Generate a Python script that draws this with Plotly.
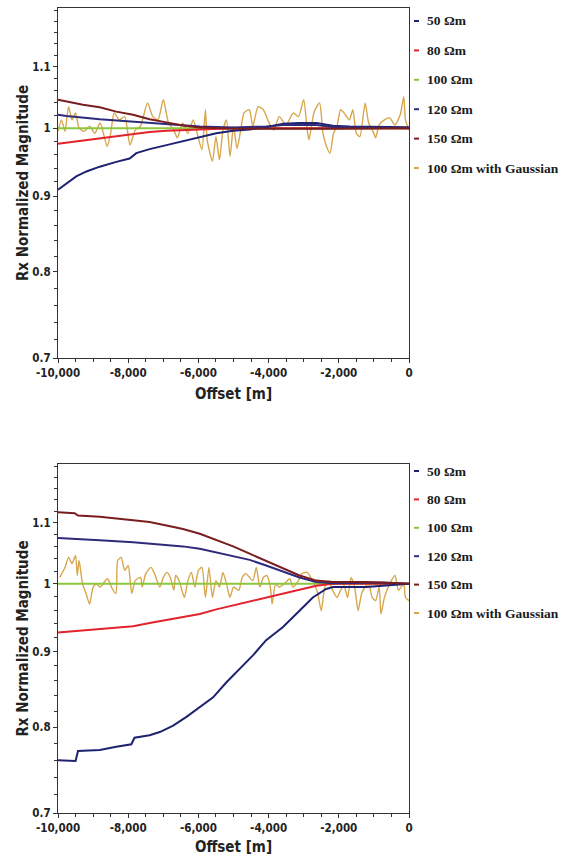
import math
import plotly.graph_objects as go
from plotly.subplots import make_subplots

# ---------------- data ----------------
series_names = ["50 Ωm", "80 Ωm", "100 Ωm", "120 Ωm", "150 Ωm", "100 Ωm with Gaussian"]
series_colors = ["#1d2370", "#e2222c", "#8cc63f", "#2e2a7c", "#7a1d1f", "#d8a64c"]

x_tickvals = [-10000, -8000, -6000, -4000, -2000, 0]
x_ticktext = ["-10,000", "-8,000", "-6,000", "-4,000", "-2,000", "0"]
y_tickvals = [0.7, 0.8, 0.9, 1.0, 1.1]
y_ticktext = ["0.7", "0.8", "0.9", "1", "1.1"]

# ---- top panel ----
top_50_x = [-10000, -9810, -9480, -9190, -8810, -8340, -7960, -7770, -7390, -6910, -6440,
            -5960, -5490, -5010, -4540, -4070, -3590, -3120, -2640, -2170, -1690, 0]
top_50_y = [0.909, 0.916, 0.928, 0.935, 0.942, 0.949, 0.954, 0.962, 0.968, 0.974, 0.980,
            0.986, 0.992, 0.996, 0.998, 1.0015, 1.0067, 1.008, 1.008, 1.0036, 1.0026, 1.0015]

top_80_x = [-10000, -9290, -8810, -8340, -7860, -7390, -6910, -6440, -5960, -5010, 0]
top_80_y = [0.976, 0.981, 0.985, 0.988, 0.991, 0.994, 0.996, 0.997, 0.998, 1.0, 1.0]

top_100_x = [-10000, 0]
top_100_y = [1.0, 1.0]

top_120_x = [-10000, -9760, -8810, -7860, -6910, -5960, -5010, -4070, -3590, -2640, -2170, 0]
top_120_y = [1.021, 1.019, 1.014, 1.010, 1.006, 1.0026, 1.001, 1.0026, 1.005, 1.005, 1.002, 1.0]

top_150_x = [-10000, -9290, -8810, -8340, -7860, -7390, -6910, -6440, -5960, -5010, -2170, 0]
top_150_y = [1.045, 1.037, 1.033, 1.026, 1.021, 1.014, 1.009, 1.004, 1.001, 0.999, 0.999, 1.0]

top_gauss_x = [-10000, -9900, -9800, -9700, -9600, -9500, -9400, -9250, -9100, -8950,
               -8800, -8600, -8500, -8400, -8250, -8100, -7950, -7800, -7650, -7450,
               -7300, -7150, -7000, -6850, -6700, -6600, -6450, -6300, -6150, -6050,
               -5900, -5800, -5750, -5600, -5500, -5400, -5300, -5200, -5100, -5000,
               -4900, -4800, -4700, -4550, -4450, -4300, -4150, -4000, -3850, -3700,
               -3500, -3300, -3150, -3000, -2900, -2850, -2700, -2550, -2450, -2350,
               -2250, -2150, -2050, -1950, -1850, -1700, -1600, -1500, -1400, -1250,
               -1150, -1000, -950, -850, -700, -550, -400, -250, -150, -100, 0]
top_gauss_y = [0.995, 1.013, 0.995, 1.034, 1.013, 1.024, 1.000, 0.995, 1.003, 0.992,
               1.008, 0.972, 0.992, 1.024, 1.013, 1.018, 0.974, 0.997, 1.003, 1.040,
               1.018, 1.013, 1.045, 1.008, 0.997, 0.985, 1.008, 0.992, 1.013, 0.995,
               0.967, 1.029, 0.982, 0.950, 0.987, 0.952, 0.997, 1.013, 0.957, 1.003,
               0.969, 0.995, 1.024, 1.029, 1.003, 1.034, 1.029, 1.010, 0.997, 1.018,
               1.005, 1.024, 1.018, 1.045, 0.997, 0.982, 1.026, 1.040, 0.992, 0.972,
               0.962, 0.992, 1.003, 1.029, 1.024, 1.013, 1.029, 0.992, 0.987, 1.040,
               1.008, 0.992, 0.985, 1.005, 1.013, 1.016, 1.005, 1.021, 1.050, 1.013, 0.997]

# ---- bottom panel ----
bot_50_x = [-10000, -9500, -9430, -8810, -8340, -7910, -7820, -7390, -7100, -6720, -6340,
            -5960, -5580, -5200, -4820, -4440, -4070, -3590, -3120, -2740, -2360, -2170,
            -1220, -740, -270, 0]
bot_50_y = [0.760, 0.759, 0.771, 0.772, 0.776, 0.779, 0.787, 0.790, 0.794, 0.802, 0.813,
            0.825, 0.838, 0.858, 0.877, 0.895, 0.916, 0.935, 0.959, 0.979, 0.992, 0.995,
            0.995, 0.997, 1.0, 1.0]

bot_80_x = [-10000, -9480, -8810, -7860, -7390, -6910, -6440, -5960, -5490, -5010, -4540,
            -4070, -3590, -3120, -2640, -2170, 0]
bot_80_y = [0.927, 0.929, 0.932, 0.936, 0.941, 0.945, 0.950, 0.954, 0.961, 0.967, 0.973,
            0.978, 0.985, 0.991, 0.997, 1.0, 1.0]

bot_100_x = [-10000, 0]
bot_100_y = [1.0, 1.0]

bot_120_x = [-10000, -9290, -8810, -7860, -6910, -6440, -5960, -5490, -5010, -4540, -4070,
             -3590, -3120, -2640, -2170, -740, 0]
bot_120_y = [1.074, 1.071, 1.070, 1.067, 1.063, 1.060, 1.056, 1.050, 1.045, 1.038, 1.029,
             1.019, 1.010, 1.003, 1.001, 1.002, 1.0]

bot_150_x = [-10000, -9525, -9430, -8810, -7860, -7390, -6910, -6440, -5960, -5490, -5010,
             -4540, -4070, -3590, -3120, -2640, -2170, -1220, -270, 0]
bot_150_y = [1.118, 1.116, 1.112, 1.110, 1.104, 1.101, 1.095, 1.089, 1.081, 1.071, 1.060,
             1.048, 1.036, 1.024, 1.013, 1.005, 1.003, 1.003, 1.001, 1.0]

bot_gauss_x = [-9950, -9800, -9700, -9600, -9500, -9450, -9400, -9300, -9200, -9100,
               -9000, -8900, -8800, -8600, -8550, -8450, -8350, -8300, -8200, -8100,
               -8000, -7900, -7800, -7650, -7600, -7500, -7350, -7250, -7100, -7000,
               -6900, -6800, -6700, -6650, -6550, -6400, -6300, -6200, -6100, -6000,
               -5900, -5800, -5700, -5600, -5500, -5400, -5300, -5200, -5100, -5000,
               -4850, -4750, -4650, -4450, -4350, -4250, -4150, -4050, -3950, -3900,
               -3800, -3700, -3550, -3400, -3300, -3150, -3050, -2900, -2800, -2700,
               -2600, -2500, -2400, -2300, -2150, -2050, -1950, -1850, -1750, -1650,
               -1550, -1450, -1350, -1250, -1150, -1050, -950, -850, -800, -700,
               -550, -400, -300, -150, -100, 0]
bot_gauss_y = [1.010, 1.026, 1.042, 1.032, 1.045, 1.013, 1.037, 1.000, 0.985, 0.969,
               0.995, 1.000, 0.995, 1.008, 1.005, 0.992, 0.985, 1.037, 1.042, 1.021,
               1.029, 0.985, 1.005, 1.010, 0.995, 1.016, 1.026, 1.016, 0.995, 1.010,
               1.018, 1.010, 0.990, 1.013, 1.005, 0.979, 1.005, 1.018, 0.995, 1.021,
               1.026, 0.979, 1.026, 0.979, 1.005, 0.995, 1.018, 1.000, 0.979, 0.995,
               0.990, 1.010, 1.016, 1.005, 1.026, 0.995, 1.010, 1.013, 0.995, 0.969,
               1.000, 0.995, 1.000, 1.008, 0.995, 1.005, 1.016, 1.018, 1.010, 1.000,
               0.985, 0.959, 0.995, 1.005, 0.987, 0.979, 0.990, 0.997, 0.979, 1.010,
               0.995, 0.959, 0.985, 0.995, 1.000, 0.979, 0.974, 0.995, 0.954, 0.979,
               1.000, 1.013, 0.990, 1.000, 0.979, 0.974]

# ---------------- figure ----------------
SANS = "Liberation Sans Narrow, DejaVu Sans Condensed, Arial Narrow, sans-serif"
SERIF = "Liberation Serif, Times New Roman, serif"
W, H = 564, 856
ML, MR, MT, MB = 58, 155, 8, 43
PW = W - ML - MR
PH = H - MT - MB

def py_to_paper(py):
    return (H - MB - py) / PH

top_dom = [py_to_paper(358), 1.0]
bot_dom = [0.0, py_to_paper(464)]

fig = make_subplots(rows=2, cols=1)

panels = [
    (1, [(top_gauss_x, top_gauss_y, 5, 1.4), (top_100_x, top_100_y, 2, 2),
         (top_80_x, top_80_y, 1, 2), (top_50_x, top_50_y, 0, 2),
         (top_120_x, top_120_y, 3, 2), (top_150_x, top_150_y, 4, 2)]),
    (2, [(bot_gauss_x, bot_gauss_y, 5, 1.4), (bot_100_x, bot_100_y, 2, 2),
         (bot_80_x, bot_80_y, 1, 2), (bot_50_x, bot_50_y, 0, 2),
         (bot_120_x, bot_120_y, 3, 2), (bot_150_x, bot_150_y, 4, 2)]),
]
for row, traces in panels:
    for xs, ys, idx, lw in traces:
        line = dict(color=series_colors[idx], width=lw)
        if idx == 5:
            line.update(shape="spline", smoothing=0.6)
        fig.add_trace(go.Scatter(x=xs, y=ys, mode="lines", name=series_names[idx],
                                 line=line, showlegend=False, hoverinfo="skip"),
                      row=row, col=1)

axis_color = "#333333"
tick_font = dict(family=SANS, size=11.5, color="#222222", weight="bold")
title_font = dict(family=SANS, size=15, color="#222222", weight="bold")
y_minor = [round(0.70 + 0.02 * i, 2) for i in range(26)]
y_minor = [v for v in y_minor if all(abs(v - m) > 1e-6 for m in y_tickvals)]

for row, dom in [(1, top_dom), (2, bot_dom)]:
    fig.update_xaxes(row=row, col=1, range=[-10000, 0], tickmode="array",
                     tickvals=x_tickvals, ticktext=x_ticktext, ticks="outside",
                     ticklen=4, tickcolor=axis_color, showline=True, linecolor=axis_color,
                     linewidth=1, mirror=True, showgrid=False, zeroline=False,
                     tickfont=tick_font, automargin=False,
                     minor=dict(dtick=500, ticks="outside", ticklen=3, tickcolor=axis_color),
                     title=dict(text="Offset [m]", font=title_font, standoff=9))
    fig.update_yaxes(row=row, col=1, type="log", domain=dom,
                     range=[math.log10(0.7), math.log10(1.205)], tickmode="array",
                     tickvals=y_tickvals, ticktext=y_ticktext, ticks="outside",
                     ticklen=4, tickcolor=axis_color, showline=True, linecolor=axis_color,
                     linewidth=1, mirror=True, showgrid=False, zeroline=False,
                     tickfont=tick_font, automargin=False,
                     minor=dict(tickmode="array", tickvals=y_minor, ticks="outside",
                                ticklen=3, tickcolor=axis_color),
                     title=dict(text="Rx Normalized Magnitude", font=title_font, standoff=0))

# legends drawn at the right of each panel
legend_specs = [
    (21, 29.4),
    (471, 28.4),
]
shapes = []
annotations = []
for first, step in legend_specs:
    for i, name in enumerate(series_names):
        py = first + step * i
        yp = py_to_paper(py)
        shapes.append(dict(type="line", xref="paper", yref="paper",
                           x0=(414 - ML) / PW, x1=(419 - ML) / PW, y0=yp, y1=yp,
                           line=dict(color=series_colors[i], width=2)))
        annotations.append(dict(xref="paper", yref="paper", x=(425 - ML) / PW, y=yp,
                                xanchor="left", yanchor="middle", showarrow=False,
                                text=name, font=dict(family=SERIF, size=13.5,
                                                     color="#1a1a1a", weight="bold")))

fig.update_layout(width=W, height=H, margin=dict(l=ML, r=MR, t=MT, b=MB),
                  paper_bgcolor="white", plot_bgcolor="white",
                  shapes=shapes, annotations=annotations, showlegend=False)

fig.write_html("out.html", config={"displayModeBar": False},
               post_script="document.body.style.margin='0px';document.body.style.overflow='hidden';")
